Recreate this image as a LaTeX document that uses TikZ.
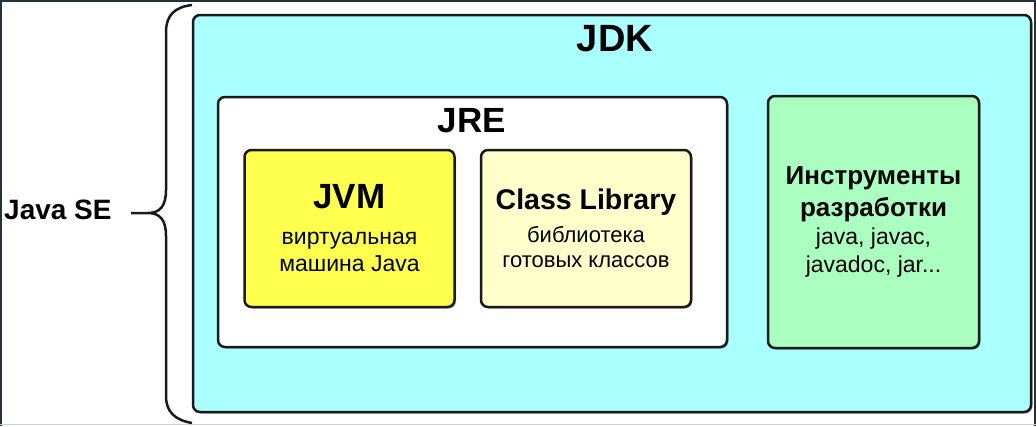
\documentclass[tikz,border=0pt]{standalone}
\usepackage{fontspec}
\setmainfont{Liberation Sans}
\usetikzlibrary{shadows}

\definecolor{jdkcyan}{HTML}{AAFFFF}
\definecolor{jvmyellow}{HTML}{FFFF4D}
\definecolor{libyellow}{HTML}{FFFFCC}
\definecolor{toolgreen}{HTML}{AAFFC0}
\definecolor{boxline}{HTML}{1A1A1A}
\definecolor{frameline}{HTML}{27313D}

\tikzset{
  box/.style={draw=boxline, line width=2.5pt, rounded corners=7pt, inner sep=0pt,
    align=center, drop shadow={shadow xshift=1.5pt, shadow yshift=-1.5pt, fill=black, opacity=0.3}},
  boxtitle/.style={anchor=base, font=\fontsize{36}{40}\selectfont\bfseries},
}

\begin{document}
\begin{tikzpicture}[x=1pt, y=-1pt]
    \useasboundingbox (0,0) rectangle (1036,426);

    % Рамка
    \fill[white] (0,0) rectangle (1036,426);
    \draw[frameline, line width=4pt] (0,426) -- (0,0) -- (1036,0) -- (1036,426);
    \draw[gray!35, line width=1pt] (0,424) -- (1036,424);

    % Коробки
    \node[box, fill=jdkcyan, minimum width=838pt, minimum height=397pt] (jdk) at (612,213.5) {};
    \node[box, fill=white, minimum width=509pt, minimum height=250pt] (jre) at (472.5,222) {};
    \node[box, fill=jvmyellow, minimum width=210pt, minimum height=157pt,
        font=\fontsize{23}{27}\selectfont] (jvm) at (349.5,228.5)
        {{\fontsize{35}{38}\selectfont\bfseries JVM}\\[9pt]виртуальная\\машина Java};
    \node[box, fill=libyellow, minimum width=210pt, minimum height=157pt,
        font=\fontsize{22}{25}\selectfont] (classlib) at (586,228.5)
        {{\fontsize{28.5}{30}\selectfont\bfseries Class Library}\\[8pt]библиотека\\готовых классов};
    \node[box, fill=toolgreen, minimum width=211pt, minimum height=252pt,
        font=\fontsize{23}{28}\selectfont] (tools) at (873.5,222)
        {{\fontsize{26}{30}\selectfont\bfseries Инструменты}\\[4pt]{\fontsize{26}{30}\selectfont\bfseries разработки}\\java, javac,\\javadoc, jar...};

    % Заголовки
    \node[boxtitle, font=\fontsize{38}{40}\selectfont\bfseries] (jdktitle) at (615,51) {JDK};
    \node[boxtitle, font=\fontsize{35}{38}\selectfont\bfseries] (jretitle) at (472,132) {JRE};

    % Скобка
    \node[anchor=base west, font=\fontsize{28}{30}\selectfont\bfseries, inner sep=0pt] (javase) at (4,219) {Java SE};
    \coordinate (tip) at (131,213);
    \draw[boxline, line width=2.5pt]
        (192,5) .. controls (175,7) and (166,15) .. (166,32) -- (166,190)
        .. controls (166,206) and (160,213) .. (148,213) -- (tip)
        (148,213) .. controls (160,213) and (166,220) .. (166,236) -- (166,396)
        .. controls (166,412) and (175,420) .. (192,423);

\end{tikzpicture}
\end{document}
